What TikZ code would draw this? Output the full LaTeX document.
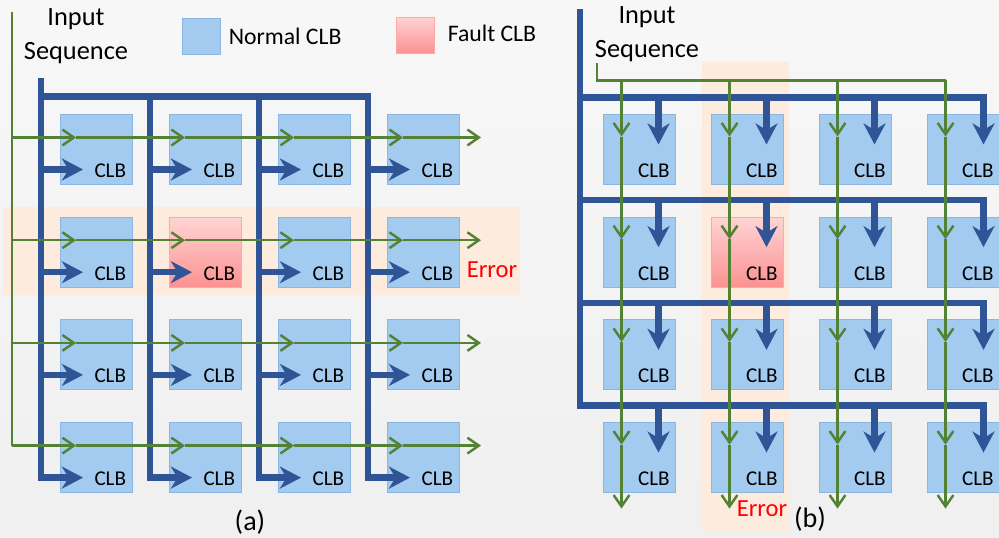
\documentclass[tikz,border=0pt]{standalone}
\usepackage{fontspec}
\setmainfont{Carlito}
\usepackage{xcolor}
\usepackage{tikz}
\usetikzlibrary{calc}
\usetikzlibrary{positioning}
\usetikzlibrary{arrows.meta}
\definecolor{busblue}{RGB}{47,85,151}
\definecolor{siggreen}{RGB}{84,130,53}
\definecolor{clbfill}{RGB}{163,203,240}
\definecolor{clbedge}{RGB}{140,182,225}
\definecolor{faulttop}{RGB}{255,212,212}
\definecolor{faultbot}{RGB}{252,145,145}
\definecolor{bandfill}{RGB}{253,236,222}
\definecolor{errred}{RGB}{255,0,0}
\tikzset{
  clbbox/.style = {draw=clbedge, line width=0.5pt, fill=clbfill, inner sep=0pt},
  faultbox/.style = {draw=faultbot!80!white, line width=0.5pt, top color=faulttop, bottom color=faultbot, inner sep=0pt},
  clbtext/.style = {anchor=south east, inner sep=0pt, xshift=-0.12cm, yshift=0.14cm, font=\fontsize{12}{14}\selectfont},
  clb/.style = {clbbox, minimum width=1.44cm, minimum height=1.4cm, label={[clbtext]south east:CLB}},
  fault/.style = {faultbox, minimum width=1.44cm, minimum height=1.4cm, label={[clbtext]south east:CLB}},
  bus/.style = {busblue, line width=3.6pt, line cap=rect},
  busarrow/.style = {busblue, line width=3.6pt, -{Stealth[length=12pt,width=12.5pt,inset=3.8pt]}},
  sig/.style = {siggreen, line width=1.4pt},
  sigarrow/.style = {siggreen, line width=1.4pt, -{Straight Barb[length=6.5pt,width=9pt,line width=1.4pt]}},
  legendtext/.style = {font=\fontsize{13.5}{16}\selectfont, inner sep=0pt},
  inputtext/.style = {font=\fontsize{15}{19}\selectfont, align=center, inner sep=0pt},
  errortext/.style = {text=errred, font=\fontsize{14}{16}\selectfont, inner sep=0pt},
  captext/.style = {font=\fontsize{16}{18}\selectfont, inner sep=0pt}
}

\begin{document}
\begin{tikzpicture}[x=0.02cm, y=-0.02cm]
  \useasboundingbox (0,0) rectangle (999,537);
  \shade[top color=white!97!black, bottom color=white!94!black] (0,0) rectangle (999,537);
  \fill[bandfill] (3,207) rectangle (520,295);
  \fill[bandfill] (702,62) rectangle (789,532);

  \foreach \r in {1,...,4}
    \foreach \c in {1,...,4} {
      \ifnum\r\c=22
        \node[fault] (a\r\c) at ({96+109*(\c-1)},{149.5+102.7*(\r-1)}) {};
        \node[fault] (b\r\c) at ({639.5+108*(\c-1)},{149.5+102.7*(\r-1)}) {};
      \else
        \node[clb] (a\r\c) at ({96+109*(\c-1)},{149.5+102.7*(\r-1)}) {};
        \node[clb] (b\r\c) at ({639.5+108*(\c-1)},{149.5+102.7*(\r-1)}) {};
      \fi
    }

  \node[clbbox, minimum width=0.76cm, minimum height=0.72cm] (lgnormal) at (201,36) {};
  \node[legendtext, right=0.16cm of lgnormal] (txnormal) {Normal CLB};
  \node[faultbox, minimum width=0.76cm, minimum height=0.72cm] (lgfault) at (415,35) {};
  \node[legendtext, right=0.26cm of lgfault, yshift=0.04cm] (txfault) {Fault CLB};

  \node[inputtext] (ina) at (76,36) {Input\\Sequence};
  \node[inputtext] (inb) at (647,34) {Input\\Sequence};
  \node[errortext] (erra) at (492,270) {Error};
  \node[errortext] (errb) at (762,509) {Error};
  \node[captext] (capa) at (250,522) {(a)};
  \node[captext] (capb) at (810,519) {(b)};

  \draw[bus] ($(a11)+(-55,-68)$) -- ($(a11)+(-55,-53)$) -- ($(a14)+(-55,-53)$);
  \foreach \c in {1,...,4} {
    \draw[bus] ($(a1\c)+(-55,-53)$) -- ($(a4\c)+(-55,20)$);
    \foreach \r in {1,...,4}
      \draw[busarrow] ($(a\r\c)+(-55,20)$) -- ($(a\r\c)+(-13,20)$);
  }

  \draw[bus] ($(b11)+(-59.5,-137)$) -- ($(b41)+(-59.5,-52)$);
  \foreach \r in {1,...,4} {
    \draw[bus] ($(b\r1)+(-59.5,-52)$) -- ($(b\r4)+(20,-52)$);
    \draw[busarrow] ($(b\r4)+(20,-52)$) -- ($(b\r4)+(20,-5)$);
    \foreach \c in {1,2,3}
      \draw[busarrow] ($(b\r\c)+(19,-52)$) -- ($(b\r\c)+(19,-5)$);
  }

  \draw[sig] ($(a11)+(-84,-137)$) -- ($(a41)+(-84,-12)$);
  \foreach \r in {1,...,4} {
    \draw[sigarrow] ($(a\r1)+(-84,-12)$) -- ($(a\r1)+(-20,-12)$);
    \foreach \c [count=\n from 2] in {1,2,3}
      \draw[sigarrow] ($(a\r\c)+(-20,-12)$) -- ($(a\r\n)+(-20,-12)$);
    \draw[sigarrow] ($(a\r4)+(-20,-12)$) -- ($(a\r4)+(58,-12)$);
  }

  \draw[sig] ($(b11)+(-42.5,-86)$) -- ($(b11)+(-42.5,-69)$) -- ($(b14)+(-18,-69)$);
  \foreach \c in {1,...,4} {
    \draw[sigarrow] ($(b1\c)+(-18,-69)$) -- ($(b1\c)+(-18,-13)$);
    \foreach \r [count=\n from 2] in {1,2,3}
      \draw[sigarrow] ($(b\r\c)+(-18,-13)$) -- ($(b\n\c)+(-18,-13)$);
    \draw[sigarrow] ($(b4\c)+(-18,-13)$) -- ($(b4\c)+(-18,51)$);
  }
\end{tikzpicture}
\end{document}
